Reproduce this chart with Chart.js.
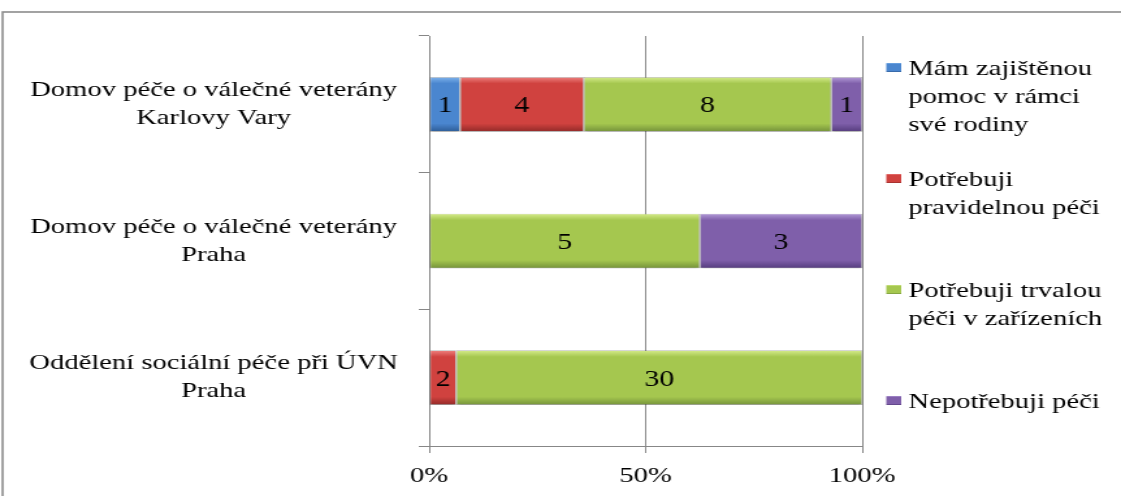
<!DOCTYPE html>
<html>
<head>
<meta charset="utf-8">
<script src="https://cdn.jsdelivr.net/npm/chart.js@4.4.1/dist/chart.umd.min.js"></script>
<style>
  html, body { margin: 0; padding: 0; background: #fff; overflow: hidden; }
</style>
</head>
<body>
<!-- the source picture is stretched sideways, so the canvas is drawn narrow and widened -->
<canvas id="chart" width="862" height="496" style="width:1121px;height:496px"></canvas>
<script>
// categories (multi-line labels)
var categories = [
    ['Domov péče o válečné veterány', 'Karlovy Vary'],
    ['Domov péče o válečné veterány', 'Praha'],
    ['Oddělení sociální péče při ÚVN', 'Praha']
];

// series names, as wrapped in the legend
var legendLines = [
    ['Mám zajištěnou', 'pomoc v rámci', 'své rodiny'],
    ['Potřebuji', 'pravidelnou péči'],
    ['Potřebuji trvalou', 'péči v zařízeních'],
    ['Nepotřebuji péči']
];

// counts per category
var mamPomoc    = [1, 0, 0];
var pravidelna  = [4, 0, 2];
var trvala      = [8, 5, 30];
var nepotrebuji = [1, 3, 0];

var xTicks = [0, 50, 100];

var counts = [mamPomoc, pravidelna, trvala, nepotrebuji];

var palette = [
    { light: '#7fb3ec', mid: '#4a86cf', dark: '#2d5c96' },
    { light: '#ee8280', mid: '#d0423f', dark: '#922a28' },
    { light: '#d6ec8c', mid: '#a5c74f', dark: '#74923a' },
    { light: '#b39bd8', mid: '#7f5faa', dark: '#553c7d' }
];

var FONT = "'Liberation Serif', 'Times New Roman', serif";
var GRID = '#878787';

function bevel(ctx, y0, y1, pal) {
    var g = ctx.createLinearGradient(0, y0, 0, y1);
    g.addColorStop(0, pal.light);
    g.addColorStop(0.12, pal.mid);
    g.addColorStop(0.85, pal.mid);
    g.addColorStop(1, pal.dark);
    return g;
}

// totals per category -> 100% stacked
var totals = categories.map(function(c, i) {
    return counts.reduce(function(s, arr) { return s + arr[i]; }, 0);
});

var datasets = counts.map(function(arr, k) {
    return {
        label: legendLines[k].join(' '),
        counts: arr,
        data: arr.map(function(v, i) { return v > 0 ? v / totals[i] * 100 : null; }),
        backgroundColor: function(c) {
            var chart = c.chart;
            if (!chart.chartArea || c.dataIndex === undefined) return palette[k].mid;
            var y = chart.scales.y;
            var yc = y.getPixelForValue(c.dataIndex);
            var half = (y.height / categories.length) * 0.4 / 2;
            return bevel(chart.ctx, yc - half, yc + half, palette[k]);
        },
        borderColor: 'rgba(60,60,60,0.35)',
        borderWidth: 0.7,
        borderSkipped: false,
        barPercentage: 0.4,
        categoryPercentage: 1
    };
});

var framePlugin = {
    id: 'frame',
    beforeDraw: function(chart) {
        var ctx = chart.ctx;
        ctx.save();
        ctx.fillStyle = '#fff';
        ctx.fillRect(0, 0, chart.width, chart.height);
        ctx.strokeStyle = '#8c8c8c';
        ctx.lineWidth = 1.6;
        ctx.strokeRect(2, 12, chart.width + 20, chart.height + 20);
        ctx.restore();
    }
};

var shadowPlugin = {
    id: 'barShadow',
    beforeDatasetsDraw: function(chart) {
        var ctx = chart.ctx;
        ctx.save();
        ctx.shadowColor = 'rgba(0,0,0,0.28)';
        ctx.shadowBlur = 3;
        ctx.shadowOffsetY = 2;
    },
    afterDatasetsDraw: function(chart) {
        chart.ctx.restore();
    }
};

var valuePlugin = {
    id: 'values',
    afterDatasetsDraw: function(chart) {
        var ctx = chart.ctx;
        ctx.save();
        ctx.font = '23px ' + FONT;
        ctx.fillStyle = '#000';
        ctx.textAlign = 'center';
        ctx.textBaseline = 'middle';
        chart.data.datasets.forEach(function(ds, k) {
            chart.getDatasetMeta(k).data.forEach(function(el, i) {
                var v = ds.counts[i];
                if (!v) return;
                ctx.fillText(String(v), (el.x + el.base) / 2, el.y + 2);
            });
        });
        ctx.restore();
    }
};

var legendPlugin = {
    id: 'sideLegend',
    afterDraw: function(chart) {
        var ctx = chart.ctx;
        var area = chart.chartArea;
        var mx = area.right + 18.5;
        var tx = area.right + 35.5;
        ctx.save();
        ctx.font = '22px ' + FONT;
        ctx.fillStyle = '#000';
        ctx.textAlign = 'left';
        ctx.textBaseline = 'alphabetic';
        legendLines.forEach(function(lines, k) {
            var base = 75 + k * 111;
            ctx.fillStyle = bevel(ctx, base - 12, base - 3, palette[k]);
            ctx.fillRect(mx, base - 12, 11.5, 9);
            ctx.fillStyle = '#000';
            lines.forEach(function(t, j) {
                ctx.fillText(t, tx, base + j * 28);
            });
        });
        ctx.restore();
    }
};

new Chart(document.getElementById('chart'), {
    type: 'bar',
    data: {
        labels: categories,
        datasets: datasets
    },
    options: {
        indexAxis: 'y',
        responsive: false,
        animation: false,
        devicePixelRatio: 1,
        layout: {
            padding: { top: 36, right: 199, left: 0, bottom: 0 }
        },
        plugins: {
            legend: { display: false },
            tooltip: { enabled: false }
        },
        scales: {
            x: {
                stacked: true,
                min: 0,
                max: 100,
                afterBuildTicks: function(scale) {
                    scale.ticks = xTicks.map(function(v) { return { value: v }; });
                },
                afterFit: function(scale) {
                    scale.height = 50;
                    scale.paddingLeft = 0;
                    scale.paddingRight = 0;
                },
                grid: {
                    color: GRID,
                    lineWidth: 1,
                    tickLength: 7,
                    drawTicks: true
                },
                border: { display: true, color: GRID, width: 1 },
                ticks: {
                    padding: 10,
                    color: '#000',
                    font: { family: FONT, size: 22 },
                    maxRotation: 0,
                    callback: function(v) { return v + '%'; }
                }
            },
            y: {
                stacked: true,
                afterFit: function(scale) {
                    scale.width = 330;
                    scale.paddingTop = 0;
                    scale.paddingBottom = 0;
                },
                grid: {
                    offset: true,
                    drawOnChartArea: false,
                    drawTicks: true,
                    tickLength: 8,
                    color: GRID,
                    lineWidth: 1
                },
                border: { display: true, color: GRID, width: 1 },
                ticks: {
                    crossAlign: 'center',
                    padding: 16,
                    color: '#000',
                    font: { family: FONT, size: 22, lineHeight: 1.27 }
                }
            }
        }
    },
    plugins: [framePlugin, shadowPlugin, valuePlugin, legendPlugin]
});
</script>
</body>
</html>
